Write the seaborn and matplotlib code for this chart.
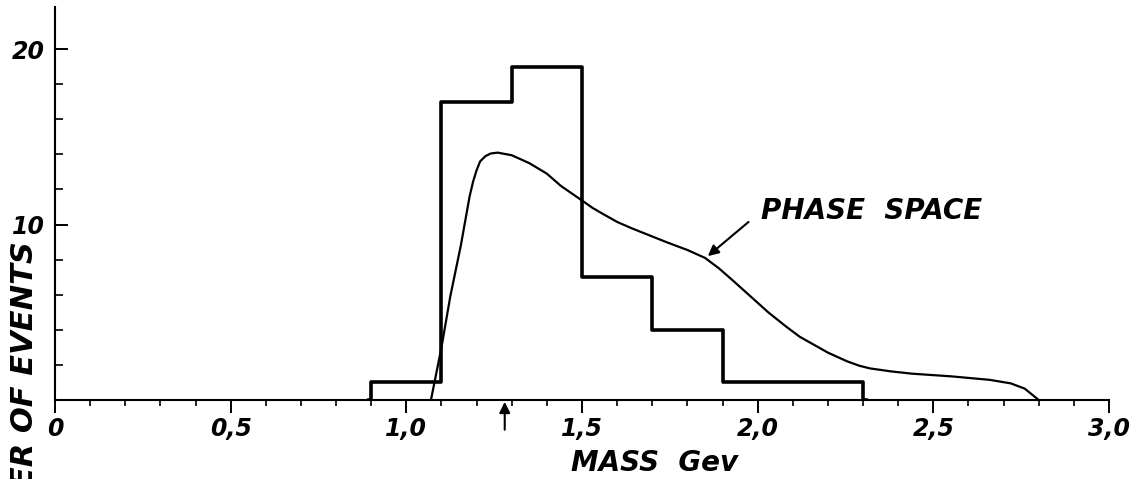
import numpy as np
import matplotlib
matplotlib.use("Agg")
import matplotlib.pyplot as plt
import seaborn as sns

# ---- data ----
# the two outer empty bins make the step outline drop to the axis at 0.9 and 2.3
bin_edges = [0.89, 0.9, 1.1, 1.3, 1.5, 1.7, 1.9, 2.3, 2.31]
event_counts = [0, 1, 17, 19, 7, 4, 1, 0]

phase_x = [1.07, 1.10, 1.125, 1.155, 1.18, 1.19, 1.20, 1.21, 1.225, 1.24,
           1.26, 1.30, 1.35, 1.40, 1.44, 1.50, 1.53, 1.56, 1.60, 1.64,
           1.69, 1.74, 1.80, 1.85, 1.89, 1.93, 1.98, 2.03, 2.08, 2.12,
           2.16, 2.20, 2.255, 2.29, 2.32, 2.38, 2.44, 2.55, 2.66, 2.72,
           2.76, 2.80]
phase_y = [0.0, 3.0, 5.9, 8.8, 11.6, 12.45, 13.1, 13.6, 13.9, 14.05,
           14.1, 13.95, 13.5, 12.9, 12.2, 11.37, 10.95, 10.6, 10.15, 9.8,
           9.4, 9.0, 8.55, 8.1, 7.5, 6.8, 5.9, 5.0, 4.2, 3.6,
           3.15, 2.7, 2.2, 1.95, 1.8, 1.63, 1.5, 1.35, 1.15, 0.95,
           0.65, 0.0]

x_major = [0, 0.5, 1.0, 1.5, 2.0, 2.5, 3.0]
x_labels = ["0", "0,5", "1,0", "1,5", "2,0", "2,5", "3,0"]
y_major = [10, 20]
y_labels = ["10", "20"]

sns.set_style("ticks")
plt.rcParams['font.family'] = ['DejaVu Sans']
plt.rcParams['text.color'] = 'black'

fig = plt.figure(figsize=(11.32, 4.79), dpi=100)
ax = fig.add_axes([0.0486, 0.1649, 0.9311, 0.8205])

centers = [(a + b) / 2 for a, b in zip(bin_edges[:-1], bin_edges[1:])]
sns.histplot(x=centers, weights=event_counts, bins=bin_edges, element="step",
             fill=False, color="black", linewidth=2.6, ax=ax)
sns.lineplot(x=phase_x, y=phase_y, sort=False, color="black", linewidth=1.6, ax=ax)

ax.set_xlim(0, 3.0)
ax.set_ylim(0, 22.4)

# axes look like the hand drawing
sns.despine(ax=ax)
for s in ["left", "bottom"]:
    ax.spines[s].set_linewidth(1.5)
    ax.spines[s].set_color("black")

ax.set_xticks(x_major)
ax.set_xticklabels(x_labels)
ax.set_xticks(np.arange(0, 3.01, 0.1), minor=True)
ax.set_yticks(y_major)
ax.set_yticklabels(y_labels)
ax.set_yticks([2, 4, 6, 8, 12, 14, 16, 18], minor=True)

ax.tick_params(axis="x", which="major", direction="out", length=9, width=1.4, pad=3, colors="black")
ax.tick_params(axis="x", which="minor", direction="out", length=4.5, width=1.2, colors="black")
ax.tick_params(axis="y", which="major", direction="in", length=9, width=1.4, pad=7, colors="black")
ax.tick_params(axis="y", which="minor", direction="in", length=5.5, width=1.2, colors="black")
for lab in ax.get_xticklabels() + ax.get_yticklabels():
    lab.set_fontsize(17)
    lab.set_fontweight("bold")
    lab.set_fontstyle("italic")
    lab.set_color("black")

ax.set_ylabel("")
ax.set_xlabel("MASS  Gev", fontsize=20, fontweight="bold", fontstyle="italic", color="black")
ax.xaxis.set_label_coords(0.569, -0.125)

# phase space annotation
ax.annotate("", xy=(1.852, 8.1), xytext=(1.98, 10.25),
            arrowprops=dict(arrowstyle="-|>", color="black", lw=1.5, mutation_scale=16))
ax.text(2.01, 10.3, "PHASE  SPACE", fontsize=20, fontweight="bold", fontstyle="italic",
        ha="left", va="baseline", color="black")

# small arrow under the axis
ax.annotate("", xy=(1.28, 0.05), xytext=(1.28, -1.85), annotation_clip=False,
            arrowprops=dict(arrowstyle="-|>", color="black", lw=1.5, mutation_scale=16))

# y label runs off the bottom edge like in the scan
fig.text(0.022, 0.497, "NUMBER OF EVENTS", rotation=90, fontsize=22, fontweight="bold",
         fontstyle="italic", ha="center", va="top", color="black")

fig.savefig("out.png", dpi=100)
